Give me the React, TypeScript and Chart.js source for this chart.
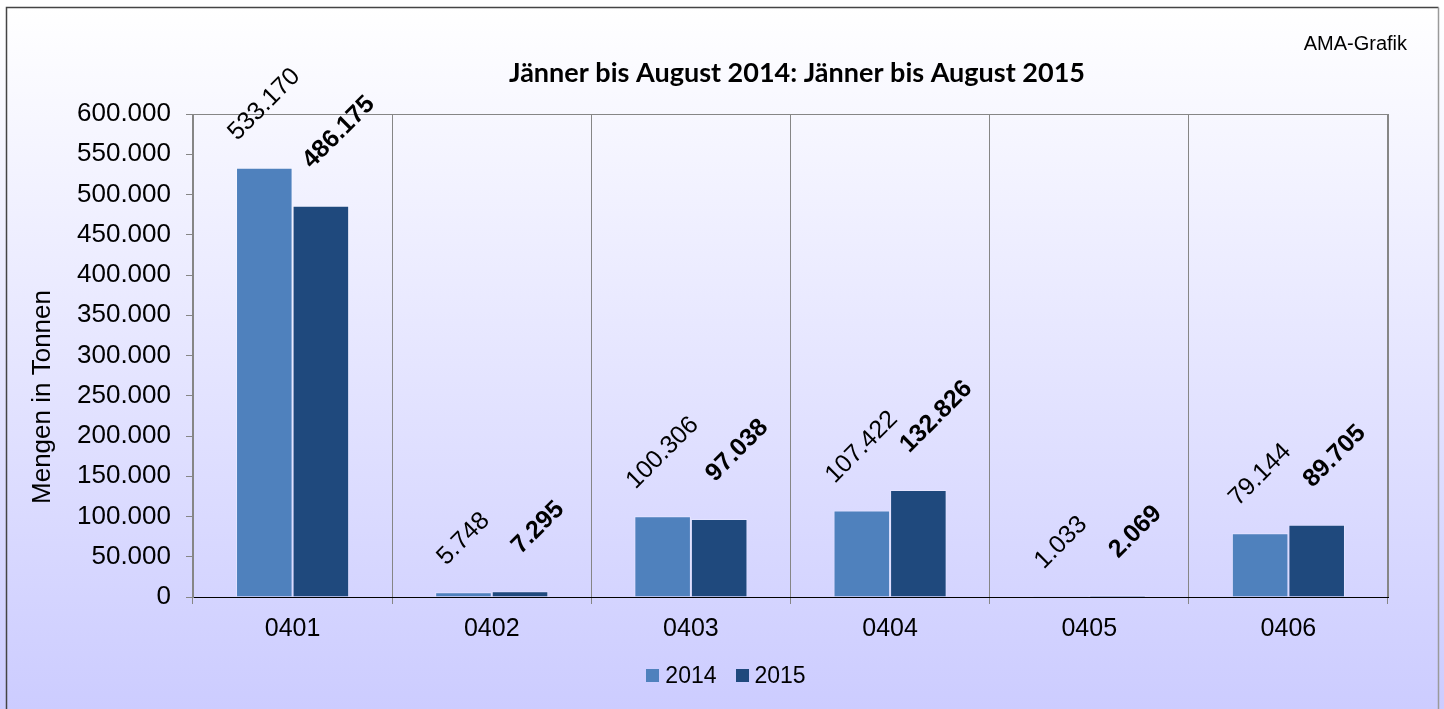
import React, { useEffect, useRef } from "react";
import { Chart, registerables } from "chart.js";

Chart.register(...registerables);

// ---- data ----
const categories = ["0401", "0402", "0403", "0404", "0405", "0406"];
const seriesNames = ["2014", "2015"];
const values2014 = [533170, 5748, 100306, 107422, 1033, 79144];
const values2015 = [486175, 7295, 97038, 132826, 2069, 89705];
const yMin = 0;
const yMax = 600000;
const yStep = 50000;
const chartTitle = "Jänner bis August 2014: Jänner bis August 2015";
const yAxisTitle = "Mengen in Tonnen";
const sourceNote = "AMA-Grafik";

const seriesColors = ["#4F81BD", "#1F497D"];
const FONT = '"Liberation Sans", Arial, sans-serif';

function fmt(n: number): string {
  return String(Math.round(n)).replace(/\B(?=(\d{3})+(?!\d))/g, ".");
}

const decorPlugin = {
  id: "decor",
  beforeDraw(chart: any) {
    const { ctx, width, height, chartArea } = chart;
    ctx.save();
    const g = ctx.createLinearGradient(0, 7, 0, height);
    g.addColorStop(0, "#FFFFFF");
    g.addColorStop(1, "#CCCCFF");
    ctx.fillStyle = g;
    ctx.fillRect(0, 0, width, height);
    // outer border
    ctx.lineWidth = 1.5;
    ctx.strokeStyle = "#444444";
    ctx.beginPath();
    ctx.moveTo(6.5, height);
    ctx.lineTo(6.5, 7.5);
    ctx.lineTo(1438.5, 7.5);
    ctx.stroke();
    ctx.strokeStyle = "#9A9A9A";
    ctx.beginPath();
    ctx.moveTo(1438.5, 7.5);
    ctx.lineTo(1438.5, height);
    ctx.stroke();
    // plot area frame
    ctx.lineWidth = 1;
    ctx.strokeStyle = "#868686";
    ctx.strokeRect(
      Math.round(chartArea.left) + 0.5,
      Math.round(chartArea.top) + 0.5,
      Math.round(chartArea.right - chartArea.left),
      Math.round(chartArea.bottom - chartArea.top)
    );
    ctx.restore();
  },
  afterDatasetsDraw(chart: any) {
    const { ctx } = chart;
    chart.data.datasets.forEach((ds: any, di: number) => {
      const meta = chart.getDatasetMeta(di);
      meta.data.forEach((bar: any, i: number) => {
        const { x, y } = bar.getProps(["x", "y"], true);
        const text = fmt(ds.data[i]);
        const size = 25;
        ctx.save();
        ctx.font = `${di === 1 ? "bold " : ""}${size}px ${FONT}`;
        const L = ctx.measureText(text).width;
        const H = size * 0.72;
        const half = ((L + H) * Math.SQRT1_2) / 2;
        const dx = di === 1 ? 18 : 0;
        const gap = di === 1 ? 35 : 25;
        ctx.translate(x + dx, y - gap - half);
        ctx.rotate(-Math.PI / 4);
        ctx.textAlign = "center";
        ctx.textBaseline = "middle";
        ctx.fillStyle = "#000000";
        ctx.fillText(text, 0, 0);
        ctx.restore();
      });
    });
  },
  afterDraw(chart: any) {
    const { ctx } = chart;
    ctx.save();
    ctx.fillStyle = "#000000";
    // title
    ctx.font = `bold 27px Lato, "Open Sans", sans-serif`;
    ctx.textAlign = "center";
    ctx.textBaseline = "middle";
    ctx.fillText(chartTitle, 797, 73);
    // y axis title
    ctx.save();
    ctx.font = `26px ${FONT}`;
    ctx.translate(43, 397);
    ctx.rotate(-Math.PI / 2);
    ctx.fillText(yAxisTitle, 0, 0);
    ctx.restore();
    // source note
    ctx.font = `20px ${FONT}`;
    ctx.textAlign = "right";
    ctx.fillText(sourceNote, 1407, 44);
    // legend
    ctx.font = `23px ${FONT}`;
    ctx.textAlign = "left";
    const box = 13;
    const boxGap = 6;
    const itemGap = 19;
    const items = chart.data.datasets.map((ds: any) => ({
      text: ds.label,
      color: ds.backgroundColor,
      w: box + boxGap + ctx.measureText(ds.label).width,
    }));
    const total =
      items.reduce((s: number, it: any) => s + it.w, 0) + itemGap * (items.length - 1);
    let lx = 726 - total / 2;
    const ly = 675.5;
    items.forEach((it: any) => {
      ctx.fillStyle = it.color;
      ctx.fillRect(Math.round(lx), Math.round(ly - box / 2), box, box);
      ctx.fillStyle = "#000000";
      ctx.fillText(it.text, lx + box + boxGap, ly + 1);
      lx += it.w + itemGap;
    });
    ctx.restore();
  },
};

export default function App() {
  const ref = useRef<HTMLCanvasElement | null>(null);

  useEffect(() => {
    document.body.style.margin = "0";
    if (!ref.current) return;
    const chart = new Chart(ref.current, {
      type: "bar",
      data: {
        labels: categories,
        datasets: [
          {
            label: seriesNames[0],
            data: values2014,
            backgroundColor: seriesColors[0],
            borderColor: "rgba(255,255,255,0.3)",
            borderWidth: 1,
            barPercentage: 1,
            categoryPercentage: 0.568,
          },
          {
            label: seriesNames[1],
            data: values2015,
            backgroundColor: seriesColors[1],
            borderColor: "rgba(255,255,255,0.25)",
            borderWidth: 1,
            barPercentage: 1,
            categoryPercentage: 0.568,
          },
        ],
      },
      options: {
        responsive: false,
        animation: false,
        layout: { padding: { left: 0, right: 56, top: 114, bottom: 0 } },
        plugins: {
          legend: { display: false },
          title: { display: false },
          tooltip: { enabled: false },
        },
        scales: {
          x: {
            grid: {
              offset: true,
              color: "#868686",
              lineWidth: 1,
              drawTicks: true,
              tickLength: 7,
            },
            border: { display: true, color: "#000000", width: 1 },
            ticks: {
              color: "#000000",
              font: { size: 25, family: FONT },
              padding: 10,
            },
            afterFit: (s: any) => {
              s.height = 112;
            },
          },
          y: {
            min: yMin,
            max: yMax,
            ticks: {
              stepSize: yStep,
              callback: (v: any) => fmt(Number(v)),
              color: "#000000",
              font: { size: 26, family: FONT },
              padding: 15,
            },
            grid: {
              drawOnChartArea: false,
              drawTicks: true,
              tickLength: 7,
              color: "#868686",
            },
            border: { display: true, color: "#868686" },
            afterFit: (s: any) => {
              s.width = 193;
            },
          },
        },
      },
      plugins: [decorPlugin],
    });
    return () => chart.destroy();
  }, []);

  return (
    <div style={{ width: 1444, height: 709 }}>
      <canvas ref={ref} width={1444} height={709} style={{ display: "block" }} />
    </div>
  );
}
